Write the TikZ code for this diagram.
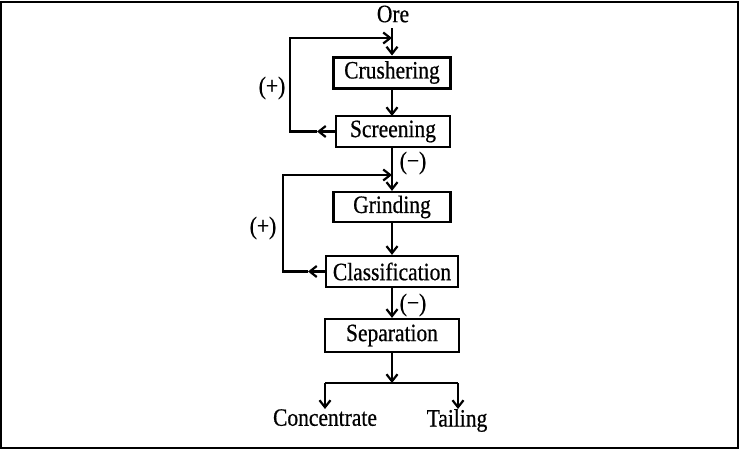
\documentclass[tikz,border=0pt]{standalone}
\usepackage{fontspec}
\setmainfont{Liberation Serif}[FakeStretch=0.86,FakeBold=0.6]
\usetikzlibrary{arrows.meta}
\begin{document}
\begin{tikzpicture}[x=1pt,y=-1pt,
  every node/.style={font=\fontsize{25}{29}\selectfont},
  box/.style={draw,line width=2.2pt,inner sep=0pt,minimum height=31pt},
  thickbox/.style={box,line width=3pt},
  ln/.style={line width=2.2pt},
  arr/.style={ln,-{Straight Barb[length=7pt,width=11pt]}},
  lbl/.style={inner sep=0pt}
]
\useasboundingbox (0,0) rectangle (740,450);
\draw[line width=1.2pt] (1,2) rectangle (738,448);

\node[lbl] (ore) at (393,14) {Ore};
\node[thickbox,minimum width=117pt] (crush) at (392,72.5) {Crushering};
\node[box,minimum width=114pt] (screen) at (393,131.5) {Screening};
\node[box,minimum width=117pt,minimum height=30pt] (grind) at (392,207) {Grinding};
\node[box,minimum width=132pt] (class) at (392,271.5) {Classification};
\node[box,minimum width=134pt,minimum height=33pt] (sep) at (392,335.5) {Separation};
\node[lbl,anchor=north] (conc) at (325,409) {Concentrate};
\node[lbl,anchor=north] (tail) at (457,409) {Tailing};

\node[lbl] (p1) at (272,88) {(+)};
\node[lbl] (p2) at (263,228) {(+)};
\node[lbl] (m1) at (413,163) {(−)};
\node[lbl] (m2) at (413,305) {(−)};

\coordinate (top) at (392,28);
\coordinate (j1) at (392,38);
\coordinate (j2) at (392,175);
\coordinate (a1) at (317,131.5);
\coordinate (l1) at (290,131.5);
\coordinate (a2) at (308,271.5);
\coordinate (l2) at (283,271.5);
\coordinate (split) at (392,383);
\coordinate (sl) at (325,383);
\coordinate (sr) at (458,383);

% main line
\draw[arr] (top) -- (crush.north);
\draw[arr] (crush.south) -- (392,116);
\draw[arr] (392,147) -- (grind.north);
\draw[arr] (grind.south) -- (class.north);
\draw[arr] (class.south) -- (sep.north);
\draw[arr] (sep.south) -- (split);

% feedback loops
\draw[arr] (screen.west) -- (a1);
\draw[arr] (a1) -- (l1) |- (j1);
\draw[arr] (class.west) -- (a2);
\draw[arr] (a2) -- (l2) |- (j2);

% split
\draw[ln] (sl) -- (sr);
\draw[arr] (sl) -- (conc.north);
\draw[arr] (sr) -- (sr |- conc.north);
\end{tikzpicture}
\end{document}
